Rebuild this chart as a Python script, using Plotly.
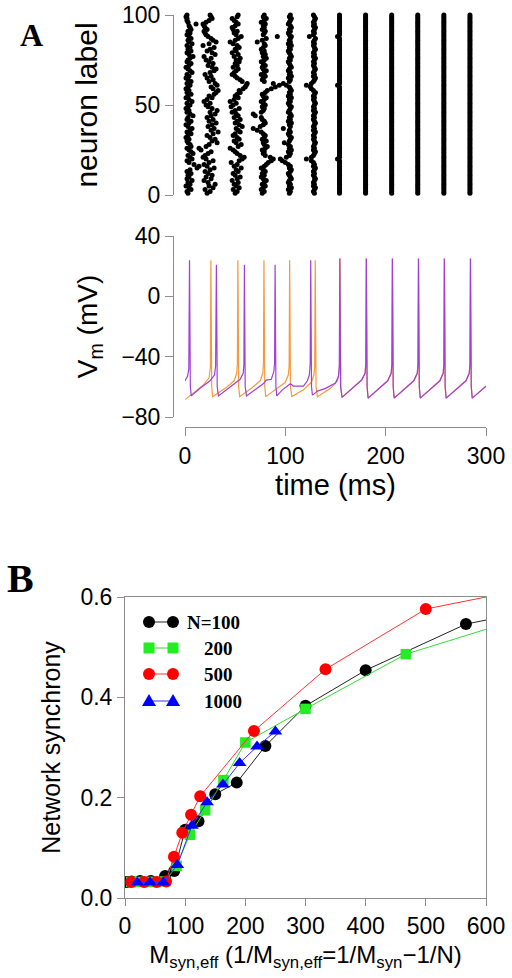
import plotly.graph_objects as go

# ---------------- Panel A (raster) data: spike times (ms) for neurons 1..100 ----------------
burst1 = [3, 2, 6, 4, 1, 5, 3, 7, 2, 4,
          3, 6, 2, 5, 12, 14, 9, 4, 2, 7,
          5, 3, 8, 6, 4, 2, 6, 5, 3, 2,
          4, 1, 3, 6, 2, 5, 7, 3, 1, 4,
          6, 2, 3, 8, 5, 2, 4, 1, 3, 5,
          2, 7, 4, 1, 3, 6, 2, 4, 1, 3,
          5, 2, 6, 3, 1, 4, 2, 7, 5, 3,
          1, 4, 6, 2, 3, 5, 8, 4, 2, 6,
          3, 5, 2, 7, 4, 3, 6, 4, 2, 5,
          3, 6, 5, 4, 11, 3, 2, 2, 1, 2]
burst2 = [22, 25, 20, 28, 24, 30, 23, 19, 26, 21,
          27, 23, 20, 25, 29, 22, 19, 24, 28, 21,
          18, 20, 23, 26, 16, 14, 21, 24, 32, 27,
          30, 25, 22, 28, 33, 26, 29, 23, 27, 31,
          24, 28, 22, 26, 30, 25, 32, 27, 23, 21,
          25, 19, 22, 27, 24, 29, 31, 33, 28, 26,
          32, 30, 24, 28, 22, 26, 20, 25, 29, 31,
          27, 23, 28, 24, 21, 26, 19, 30, 27, 22,
          25, 29, 18, 24, 31, 28, 26, 23, 21, 20,
          19, 22, 20, 19, 18, 21, 24, 27, 26, 25]
burst3 = [50, 52, 48, 54, 51, 49, 53, 47, 52, 55,
          50, 48, 53, 51, 56, 49, 52, 46, 54, 57,
          59, 55, 52, 50, 48, 45, 53, 56, 51, 49,
          54, 52, 48, 50, 55, 53, 51, 57, 54, 50,
          52, 55, 49, 53, 51, 47, 50, 54, 46, 48,
          51, 45, 49, 53, 50, 52, 55, 54, 58, 60,
          61, 62, 57, 55, 52, 50, 47, 49, 51, 53,
          48, 52, 50, 54, 51, 55, 49, 53, 47, 51,
          50, 54, 52, 48, 45, 50, 53, 56, 51, 49,
          52, 48, 47, 50, 53, 51, 49, 47, 52, 53]
burst4 = [77, 79, 76, 78, 80, 77, 79, 81, 78, 76,
          79, 77, 80, 78, 76, 79, 81, 83, 86, 88,
          85, 80, 78, 79, 77, 80, 82, 79, 78, 81,
          77, 79, 80, 78, 76, 72, 68, 75, 78, 80,
          79, 77, 76, 70, 68, 76, 78, 79, 77, 80,
          78, 76, 79, 81, 78, 77, 80, 82, 86, 90,
          94, 88, 79, 77, 78, 80, 76, 79, 81, 78,
          77, 80, 78, 76, 79, 81, 78, 80, 77, 79,
          76, 78, 80, 79, 72, 77, 81, 92, 78, 79,
          80, 77, 79, 78, 80, 76, 79, 81, 78, 79]
burst5 = [104, 105, 103, 106, 104, 105, 103, 104, 106, 105,
          104, 103, 105, 106, 104, 105, 103, 100, 97, 95,
          101, 104, 105, 103, 106, 104, 105, 103, 99, 104,
          105, 106, 104, 103, 105, 104, 98, 105, 104, 106,
          103, 105, 104, 106, 105, 103, 104, 105, 106, 104,
          103, 105, 104, 106, 103, 105, 104, 106, 105, 104,
          101, 98, 104, 105, 103, 106, 104, 105, 103, 104,
          106, 105, 104, 103, 105, 104, 106, 105, 104, 103,
          105, 104, 106, 103, 105, 104, 105, 106, 104, 103,
          105, 104, 106, 105, 103, 104, 105, 106, 104, 105]
burst6 = [129, 128, 129, 130, 128, 129, 128, 129, 130, 129,
          128, 129, 128, 129, 130, 128, 129, 128, 126, 121,
          126, 128, 129, 130, 128, 129, 128, 129, 130, 129,
          128, 129, 128, 129, 130, 128, 129, 128, 129, 130,
          129, 128, 129, 128, 129, 130, 128, 129, 128, 129,
          130, 129, 128, 129, 128, 129, 130, 128, 126, 125,
          121, 126, 128, 129, 130, 128, 129, 128, 129, 130,
          129, 128, 129, 128, 129, 130, 128, 129, 128, 129,
          130, 129, 128, 129, 128, 129, 130, 124, 128, 129,
          128, 129, 130, 128, 129, 128, 129, 130, 129, 128]
burst7_time = 154
burst7_early = {20: 152, 61: 152, 88: 152}
sync_times = [180, 206, 232, 258, 284]
n_neurons = 100

# ---------------- Panel A (membrane potential) vertices ----------------
purple_t = [0, 2.5, 3.8, 4.5, 5.3, 6.3,
            15, 25, 29.5, 30.5, 31.3, 32.1, 33.3,
            45, 55, 58, 58.7, 59.2, 60, 61.3,
            70, 78, 81, 86, 88.5, 89.3, 89.8, 90.6, 91.5,
            97, 102, 105, 108, 118, 122, 124, 124.8, 125.3, 126.1, 127,
            130, 131.5, 140, 150, 153, 153.8, 154.3, 155.1, 156.5,
            167, 176, 179.5, 180.2, 180.7, 181.5, 182.5,
            193, 202, 205.5, 206.2, 206.7, 207.5, 208.5,
            219, 228, 231.5, 232.2, 232.7, 233.5, 234.5,
            245, 254, 257.3, 258, 258.5, 259.3, 260.3,
            271, 280, 283.3, 284, 284.5, 285.3, 286.3,
            300]
purple_v = [-56, -53, -48, 24, -60, -66,
            -61, -56, -52, -46, 21, -60, -66,
            -60, -55, -51, -45, 21, -60, -66,
            -62, -58, -55.5, -55, -50, -44, 21, -60, -66,
            -62, -59.5, -58, -59.5, -59.5, -56, -52, -44, 24, -60, -65.5,
            -64, -63, -61, -57.5, -53, -46, 25, -60, -67,
            -61, -55.5, -51, -45, 25, -60, -67.5,
            -61.5, -56, -51, -45, 25, -60, -67.5,
            -61.5, -56, -51, -45, 25, -60, -67.5,
            -61.5, -56, -51, -45, 25, -60, -67.5,
            -61.5, -56, -51, -45, 25, -60, -67.5,
            -59.5]
orange_t = [0, 18, 24, 25.3, 25.8, 26.6, 27.5,
            40, 49, 51.5, 52.2, 52.7, 53.5, 54.5,
            66, 75, 77.5, 78.2, 78.7, 79.5, 80.5,
            90, 100, 103, 103.8, 104.3, 105.1, 106.5,
            118, 126, 128.5, 129.3, 129.8, 130.6, 132,
            145, 152, 153.5, 154, 154.5, 155.3, 156.5,
            167, 176, 179.5, 180.2, 180.7, 181.5, 182.5,
            193, 202, 205.5, 206.2, 206.7, 207.5, 208.5,
            219, 228, 231.5, 232.2, 232.7, 233.5, 234.5,
            245, 254, 257.3, 258, 258.5, 259.3, 260.3,
            271, 280, 283.3, 284, 284.5, 285.3, 286.3,
            300]
orange_v = [-68.5, -59, -54, -47, 24, -60, -66.5,
            -61, -56, -51, -45, 24, -60, -66.5,
            -61, -56, -51, -45, 24, -60, -66.5,
            -62, -57, -52, -46, 24, -60, -66.5,
            -62, -57, -52, -46, 24, -60, -66.5,
            -61, -56, -51, -45, 25, -60, -67,
            -61, -55.5, -51, -45, 25, -60, -67.5,
            -61.5, -56, -51, -45, 25, -60, -67.5,
            -61.5, -56, -51, -45, 25, -60, -67.5,
            -61.5, -56, -51, -45, 25, -60, -67.5,
            -61.5, -56, -51, -45, 25, -60, -67.5,
            -59.5]

# ---------------- Panel B data ----------------
n100_x = [3.1, 11.1, 25.0, 42.9, 66.7, 81.8, 100.0, 122.2, 150.0, 185.7, 233.3, 300.0, 400.0, 566.7, 900.0]
n100_y = [0.032, 0.033, 0.034, 0.034, 0.044, 0.054, 0.136, 0.153, 0.207, 0.230, 0.303, 0.383, 0.454, 0.546, 0.626]
n200_x = [10.5, 22.2, 35.3, 50.0, 66.7, 85.7, 107.7, 133.3, 163.6, 200.0, 300.0, 466.7, 800.0]
n200_y = [0.032, 0.032, 0.032, 0.032, 0.033, 0.064, 0.126, 0.175, 0.235, 0.310, 0.377, 0.486, 0.610]
n500_x = [10.2, 31.9, 52.6, 68.2, 81.4, 95.2, 109.8, 125.0, 214.3, 333.3, 500.0, 750.0]
n500_y = [0.032, 0.032, 0.032, 0.033, 0.082, 0.130, 0.166, 0.203, 0.333, 0.456, 0.576, 0.636]
n1000_x = [20.4, 41.7, 63.8, 87.0, 111.1, 136.4, 162.8, 190.5, 219.5, 250.0]
n1000_y = [0.031, 0.031, 0.031, 0.066, 0.144, 0.191, 0.226, 0.269, 0.302, 0.332]
legend_labels = ["N=100", "200", "500", "1000"]

# ---------------- build figure ----------------
# The page body margin is removed (see post_script), so the figure fills the window
# and layout positions are given in window pixels.
W, H = 512, 978
def px(x):
    return x / W
def py(y):
    return 1 - y / H

AX_GRAY = "#8c8c8c"
TICKFONT = dict(family="Liberation Sans, Arial", size=23, color="black")

raster_x, raster_y = [], []
for burst in (burst1, burst2, burst3, burst4, burst5, burst6):
    for i, t in enumerate(burst):
        raster_x.append(t)
        raster_y.append(i + 1)
for n in range(1, n_neurons + 1):
    raster_x.append(burst7_early.get(n, burst7_time))
    raster_y.append(n)
for t in sync_times:
    for n in range(1, n_neurons + 1):
        raster_x.append(t)
        raster_y.append(n)

fig = go.Figure()
fig.add_trace(go.Scatter(x=raster_x, y=raster_y, mode="markers",
                         marker=dict(size=5, color="black", line=dict(width=0)),
                         xaxis="x", yaxis="y", showlegend=False, cliponaxis=False))
fig.add_trace(go.Scatter(x=orange_t, y=orange_v, mode="lines",
                         line=dict(color="#f59a3c", width=1.2),
                         xaxis="x2", yaxis="y2", showlegend=False))
fig.add_trace(go.Scatter(x=purple_t, y=purple_v, mode="lines",
                         line=dict(color="#a23fd8", width=1.2),
                         xaxis="x2", yaxis="y2", showlegend=False))

series = [
    (n100_x, n100_y, "#222222", "black", "circle", 12),
    (n200_x, n200_y, "#33dd33", "#22ee22", "square", 10.5),
    (n500_x, n500_y, "#ff3333", "#ff0000", "circle", 12),
    (n1000_x, n1000_y, "#3333ff", "#0000ff", "triangle-up", 12),
]
for (xs, ys, lc, mc, sym, sz), name in zip(series, legend_labels):
    fig.add_trace(go.Scatter(x=xs, y=ys, mode="lines+markers", name=name,
                             line=dict(color=lc, width=1),
                             marker=dict(color=mc, symbol=sym, size=sz, line=dict(width=0)),
                             xaxis="x3", yaxis="y3", showlegend=False))

xdom = [px(185), px(486)]
common_ax = dict(automargin=False, showgrid=False, zeroline=False, tickfont=TICKFONT,
                 linecolor=AX_GRAY, linewidth=1, tickcolor=AX_GRAY, ticks="outside",
                 ticklabeloverflow="allow")
fig.update_layout(
    template="none",
    width=W, height=H, margin=dict(l=0, r=0, t=0, b=0, pad=0, autoexpand=False),
    paper_bgcolor="white", plot_bgcolor="white", showlegend=False,
    font=dict(family="Liberation Sans, Arial", color="black"),
    xaxis=dict(domain=xdom, range=[0, 300], visible=False, anchor="y", automargin=False),
    yaxis=dict(domain=[py(195), py(15)], range=[0, 100], anchor="free", position=px(173),
               showline=True, ticklen=8, tickvals=[0, 50, 100],
               title=dict(text="neuron label", font=dict(size=30), standoff=14), **common_ax),
    xaxis2=dict(domain=xdom, range=[0, 300], anchor="free", position=py(427),
                showline=True, ticklen=8, tickvals=[0, 100, 200, 300],
                title=dict(text="time (ms)", font=dict(size=29), standoff=6), **common_ax),
    yaxis2=dict(domain=[py(417), py(236)], range=[-80, 40], anchor="free", position=px(173),
                showline=True, ticklen=8, tickvals=[-80, -40, 0, 40],
                title=dict(text="V<sub>m</sub> (mV)", font=dict(size=28), standoff=14), **common_ax),
    xaxis3=dict(domain=[px(125), px(486)], range=[0, 600], anchor="y3",
                showline=True, mirror=True, ticklen=7, tickvals=[0, 100, 200, 300, 400, 500, 600],
                title=dict(text="M<sub>syn,eff</sub> (1/M<sub>syn,eff</sub>=1/M<sub>syn</sub>\u22121/N)",
                           font=dict(size=24), standoff=8), **common_ax),
    yaxis3=dict(domain=[py(898), py(597)], range=[0, 0.6], anchor="x3",
                showline=True, mirror=True, ticklen=7, tickvals=[0, 0.2, 0.4, 0.6], tickformat=".1f",
                title=dict(text="Network synchrony", font=dict(size=25), standoff=12), **common_ax),
)

# panel letters
fig.add_annotation(text="<b>A</b>", x=px(31), y=py(35), xref="paper", yref="paper",
                   xanchor="center", yanchor="middle", showarrow=False,
                   font=dict(family="Liberation Serif", size=32, color="black"))
fig.add_annotation(text="<b>B</b>", x=px(20), y=py(578), xref="paper", yref="paper",
                   xanchor="center", yanchor="middle", showarrow=False,
                   font=dict(family="Liberation Serif", size=40, color="black"))

# custom legend (two markers joined by a line, as in the original)
rows = [622, 648, 674, 701]
text_x = [185, 202, 202, 202]
for (xs, ys, lc, mc, sym, sz), name, ry, tx in zip(series, legend_labels, rows, text_x):
    yy = py(ry)
    fig.add_shape(type="line", xref="paper", yref="paper", x0=px(149), x1=px(173), y0=yy, y1=yy,
                  line=dict(color=lc, width=1))
    for cx in (149, 173):
        common = dict(xref="paper", yref="paper", xsizemode="pixel", ysizemode="pixel",
                      xanchor=px(cx), yanchor=yy, fillcolor=mc, line=dict(width=0))
        if sym == "circle":
            fig.add_shape(type="circle", x0=-6, x1=6, y0=-6, y1=6, **common)
        elif sym == "square":
            fig.add_shape(type="rect", x0=-5.5, x1=5.5, y0=-5.5, y1=5.5, **common)
        else:
            fig.add_shape(type="path", path="M -7,-5 L 7,-5 L 0,7 Z", **common)
    fig.add_annotation(text="<b>%s</b>" % name, x=px(tx), y=yy, xref="paper", yref="paper",
                       xanchor="left", yanchor="middle", showarrow=False,
                       font=dict(family="Liberation Serif", size=19, color="black"))

fig.write_html("out.html", config={"displayModeBar": False},
               post_script="document.body.style.margin='0';document.body.style.overflow='hidden';")
